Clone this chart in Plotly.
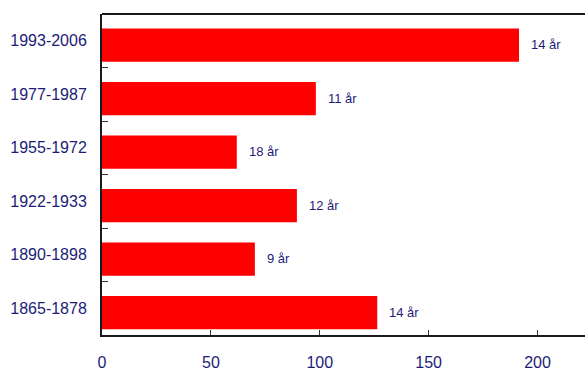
import plotly.graph_objects as go

categories = ["1865-1878", "1890-1898", "1922-1933", "1955-1972", "1977-1987", "1993-2006"]
values = [126.4, 70.2, 89.5, 61.9, 98.2, 191.5]
labels = ["14 år", "9 år", "12 år", "18 år", "11 år", "14 år"]
x_ticks = [0, 50, 100, 150, 200]

navy = "#1c1c78"
bar_w = 0.62
shift = 0.083  # bars sit slightly below the centre of their band

fig = go.Figure(go.Bar(
    y=categories, x=values, orientation="h",
    width=bar_w, offset=-bar_w / 2 - shift,
    marker=dict(color="#ff0000", line=dict(width=0)),
    hoverinfo="skip",
))

for c, v, t in zip(categories, values, labels):
    fig.add_annotation(x=v, y=c, text=t, showarrow=False, xanchor="left",
                       xshift=10, yshift=-4,
                       font=dict(size=13, color=navy,
                                 family="Liberation Sans, Arial, sans-serif"))

# top frame line
fig.add_shape(type="rect", xref="paper", yref="paper", x0=0, x1=1.05, y0=0.997, y1=1.003,
              fillcolor="#1a1a1a", line=dict(width=0), layer="above")

fig.update_layout(
    width=585, height=371,
    margin=dict(l=102, r=0, t=14, b=32),
    paper_bgcolor="white", plot_bgcolor="white",
    showlegend=False,
    font=dict(family="Liberation Sans, Arial, sans-serif", size=16, color=navy),
    xaxis=dict(range=[0, 221.8], tickvals=x_ticks, ticks="inside", ticklen=5,
               tickcolor="#333", showline=True, linecolor="#1a1a1a", linewidth=2,
               showgrid=False, zeroline=False,
               ticklabelstandoff=12, tickfont=dict(size=16, color=navy)),
    yaxis=dict(categoryorder="array", categoryarray=categories,
               range=[-0.5, 5.5], ticks="inside", tickson="boundaries", ticklen=6,
               tickcolor="#333", showline=True, linecolor="#1a1a1a", linewidth=2,
               showgrid=False, zeroline=False, ticklabelstandoff=10,
               tickfont=dict(size=16, color=navy)),
)

fig.write_html("out.html")
